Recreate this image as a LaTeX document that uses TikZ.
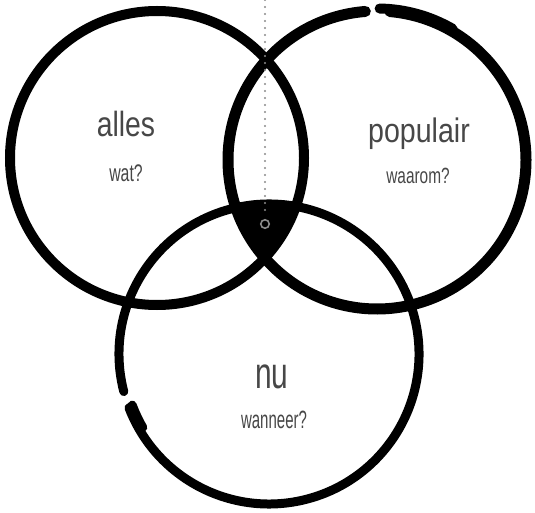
\documentclass[tikz,border=0pt]{standalone}
\usepackage{fontspec}
\setmainfont{Liberation Sans}
\usepackage{graphicx}
\definecolor{txt}{HTML}{474747}
\definecolor{dotc}{HTML}{8A8A8A}
\begin{document}
\begin{tikzpicture}[x=1pt,y=-1pt,
  ring/.style={line width=#1, draw=black, line cap=round},
  bigtxt/.style={anchor=base, text=txt, inner sep=0pt},
  smalltxt/.style={anchor=base, text=txt, inner sep=0pt}]
\useasboundingbox (0,0) rectangle (535,513);
\fill[white] (0,0) rectangle (535,513);
% centres
\coordinate (cA) at (157,158);
\coordinate (cP) at (377,160);
\coordinate (cN) at (269,354);
% central intersection
\begin{scope}
  \clip (cA) circle[radius=147];
  \clip (cP) circle[radius=149];
  \fill[black] (cN) circle[radius=150];
\end{scope}
% circles
\draw[ring=10pt] (cA) circle[radius=147];
\draw[ring=11pt] (cP) ++(265.5:149) arc[start angle=265.5, end angle=-85, radius=149];
\draw[ring=10pt] (cP) ++(271:151.5) arc[start angle=271, end angle=300, radius=151];
\draw[ring=9pt] (cN) ++(165.5:150) arc[start angle=165.5, end angle=519, radius=150];
\draw[ring=9pt] (cN) ++(159.5:146) arc[start angle=159.5, end angle=150, radius=149];
% dotted guide
\coordinate (top) at (265,0);
\coordinate (mid) at (265,224);
\draw[dotc, line width=2.2pt, line cap=round, dash pattern=on 0pt off 7pt] (top) -- (265,214);
\node[draw=dotc, line width=1.6pt, circle, minimum size=8.5pt, inner sep=0pt] (dot) at (mid) {};
% labels
\node[bigtxt] (alles) at (126,137) {\scalebox{0.81}[1]{\fontsize{35}{35}\selectfont alles}};
\node[smalltxt] (wat) at (126,182) {\scalebox{0.66}[1]{\fontsize{24}{24}\selectfont wat?}};
\node[bigtxt] (populair) at (419,143) {\scalebox{0.84}[1]{\fontsize{34}{34}\selectfont populair}};
\node[smalltxt] (waarom) at (418,183) {\scalebox{0.7}[1]{\fontsize{22}{22}\selectfont waarom?}};
\node[bigtxt] (nu) at (272,388) {\scalebox{0.68}[1]{\fontsize{44}{44}\selectfont nu}};
\node[smalltxt] (wanneer) at (274,428) {\scalebox{0.6}[1]{\fontsize{25}{25}\selectfont wanneer?}};
\end{tikzpicture}
\end{document}
